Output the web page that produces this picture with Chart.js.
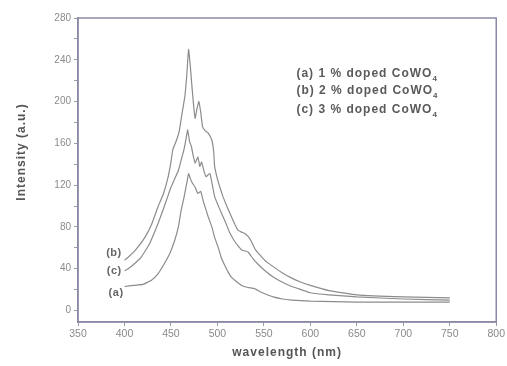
<!DOCTYPE html>
<html>
<head>
<meta charset="utf-8">
<script src="https://cdn.jsdelivr.net/npm/chart.js@4"></script>
<style>
  html, body { margin: 0; padding: 0; background: #fff; }
  #wrap { width: 507px; height: 366px; }
</style>
</head>
<body>
<div id="wrap"><canvas id="graphe"></canvas></div>
<script>
// courbe (a) 1 %
var aLambda = [400,410,420,429,436,443,449,454,458,461,464,467,469,471,473,476,479,482,485,490,494,497,501,504,508,512,515,520,526,533,540,546,551,560,570,580,600,650,700,750];
var aInt    = [23,24,25,29,35,45,55,67,80,96,108,122,131,126,122,118,112,114,104,90,80,70,60,51,43,36,32,28,24,22,21,18,16,13,11,10,9,8,8,8];
// courbe (b) 2 %
var bLambda = [400,404,412,422,429,436,442,447,450,452,456,459,462,465,467,469,471,472,474,476,478,480,482,484,487,490,494,496,497,500,503,506,510,515,519,522,526,529,533,536,541,551,560,570,580,590,600,620,650,700,750];
var bInt    = [48,51,58,70,82,99,112,128,142,154,163,172,189,205,225,250,232,221,200,184,193,200,190,176,172,170,163,152,138,126,117,109,100,90,82,77,75,74,71,67,58,48,42,36,31,27,24,19,15,13,12];
// courbe (c) 3 %
var cLambda = [400,404,411,418,427,436,443,450,454,458,461,464,466,468,470,472,474,476,479,481,483,486,488,490,492,495,497,502,508,513,518,522,526,530,533,538,543,550,560,570,580,590,600,620,650,700,750];
var cInt    = [38,40,45,51,64,83,100,118,126,134,144,154,163,173,162,157,148,141,147,138,142,132,128,130,131,118,109,98,86,75,67,62,58,57,56,50,45,39,32,27,23,20,17,15,13,11,10];

var xTicks = [350,400,450,500,550,600,650,700,750,800];
var yTicks = [0,20,40,60,80,100,120,140,160,180,200,220,240,260,280];
var yLabels = [0,40,80,120,160,200,240,280];

var legende = ["(a) 1 % doped CoWO", "(b) 2 % doped CoWO", "(c) 3 % doped CoWO"];
var etiquettes = ["(b)", "(c)", "(a)"];

function points(xs, ys) {
    var res = [];
    for (var i in xs) res.push({x: xs[i], y: ys[i]});
    return res;
}

var couleurCourbe = '#8c8c8c';

var habillage = {
    id: 'habillage',
    afterDraw: function(chart) {
        var ctx = chart.ctx;
        var a = chart.chartArea;
        var sx = chart.scales.x, sy = chart.scales.y;
        ctx.save();
        // cadre
        ctx.strokeStyle = '#8a8aa6';
        ctx.lineWidth = 1.5;
        ctx.strokeRect(a.left, a.top, a.right - a.left, a.bottom - a.top);

        // titres des axes
        ctx.fillStyle = '#555';
        ctx.font = 'bold 12px "Liberation Sans", Arial';
        ctx.letterSpacing = '1px';
        ctx.textAlign = 'center';
        ctx.textBaseline = 'middle';
        ctx.fillText('wavelength (nm)', (a.left + a.right) / 2, 353);
        ctx.save();
        ctx.translate(22, 152);
        ctx.rotate(-Math.PI / 2);
        ctx.fillText('Intensity (a.u.)', 0, 0);
        ctx.restore();

        // legende
        ctx.textAlign = 'left';
        ctx.fillStyle = '#5a5a5a';
        var ly = [227, 210, 192];
        for (var i in legende) {
            var px = sx.getPixelForValue(585);
            var py = sy.getPixelForValue(ly[i]);
            ctx.font = 'bold 12px "Liberation Sans", Arial';
            ctx.letterSpacing = '1px';
            ctx.fillText(legende[i], px, py);
            var w = ctx.measureText(legende[i]).width;
            ctx.font = 'bold 8px "Liberation Sans", Arial';
            ctx.letterSpacing = '0px';
            ctx.fillText('4', px + w, py + 5);
        }

        // etiquettes des courbes
        ctx.font = 'bold 11px "Liberation Sans", Arial';
        ctx.letterSpacing = '0.5px';
        ctx.fillStyle = '#666';
        ctx.textAlign = 'right';
        var ex = [397, 397, 399];
        var ey = [55, 38, 17];
        for (var j in etiquettes) {
            ctx.fillText(etiquettes[j], sx.getPixelForValue(ex[j]), sy.getPixelForValue(ey[j]));
        }
        ctx.restore();
    }
};

var graphe = new Chart(document.getElementById('graphe'), {
    type: 'line',
    data: {
        datasets: [
            { label: 'a', data: points(aLambda, aInt) },
            { label: 'b', data: points(bLambda, bInt) },
            { label: 'c', data: points(cLambda, cInt) }
        ]
    },
    options: {
        responsive: true,
        maintainAspectRatio: false,
        animation: false,
        devicePixelRatio: 1,
        layout: { padding: { top: 18, right: 10, left: 0, bottom: 0 } },
        elements: {
            point: { radius: 0 },
            line: { borderColor: couleurCourbe, borderWidth: 1.2, tension: 0.1, fill: false }
        },
        plugins: { legend: { display: false }, tooltip: { enabled: false } },
        scales: {
            x: {
                type: 'linear',
                min: 350,
                max: 800,
                afterBuildTicks: function(s) { s.ticks = xTicks.map(function(v) { return {value: v}; }); },
                afterFit: function(s) { s.height = 44; },
                grid: { drawOnChartArea: false, tickLength: 4, color: '#9a9ab0' },
                border: { color: '#8a8aa6', width: 1.5 },
                ticks: { color: '#8a8a8a', font: { size: 10.5, family: '"Liberation Sans", Arial' }, padding: 2, maxRotation: 0 }
            },
            y: {
                min: -11,
                max: 280,
                afterBuildTicks: function(s) { s.ticks = yTicks.map(function(v) { return {value: v}; }); },
                afterFit: function(s) { s.width = 78; },
                grid: { drawOnChartArea: false, tickLength: 4, color: '#9a9ab0' },
                border: { color: '#8a8aa6', width: 1.5 },
                ticks: {
                    color: '#8a8a8a',
                    font: { size: 10, family: '"Liberation Sans", Arial' },
                    padding: 3,
                    callback: function(v) { return yLabels.indexOf(v) >= 0 ? v : ''; }
                }
            }
        }
    },
    plugins: [habillage]
});
</script>
</body>
</html>
